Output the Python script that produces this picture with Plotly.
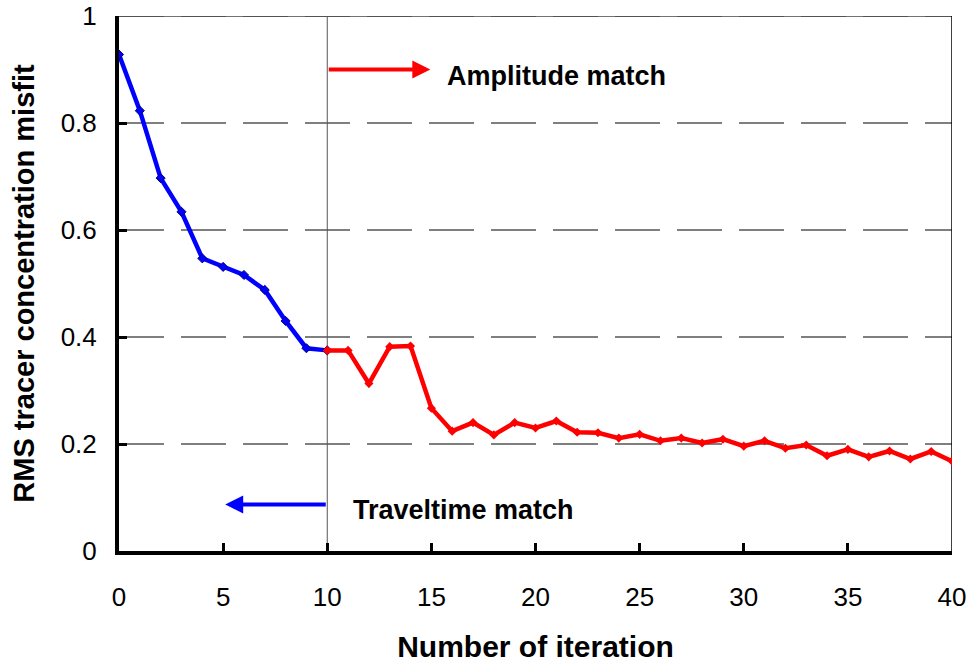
import plotly.graph_objects as go

# Data
iter_travel = [0, 1, 2, 3, 4, 5, 6, 7, 8, 9, 10]
misfit_travel = [0.928, 0.823, 0.697, 0.634, 0.547, 0.531, 0.516, 0.488, 0.430, 0.379, 0.375]

iter_amp = list(range(10, 41))
misfit_amp = [0.375, 0.375, 0.313, 0.382, 0.383, 0.267, 0.224, 0.240, 0.217, 0.240,
              0.230, 0.243, 0.222, 0.221, 0.211, 0.218, 0.206, 0.211, 0.202, 0.209,
              0.196, 0.206, 0.192, 0.198, 0.178, 0.190, 0.176, 0.187, 0.172, 0.186,
              0.168]

x_ticks = [0, 5, 10, 15, 20, 25, 30, 35, 40]
y_ticks = [0, 0.2, 0.4, 0.6, 0.8, 1.0]
y_ticktext = ["0", "0.2", "0.4", "0.6", "0.8", "1"]

FONT = "Arial, Liberation Sans, sans-serif"

fig = go.Figure()

fig.add_trace(go.Scatter(
    x=iter_travel, y=misfit_travel, mode="lines+markers",
    line=dict(color="#0000ff", width=4.5),
    marker=dict(symbol="diamond", size=7, color="#0000ff",
                line=dict(color="#000080", width=1)),
    showlegend=False, name="Traveltime match"))

fig.add_trace(go.Scatter(
    x=iter_amp, y=misfit_amp, mode="lines+markers",
    line=dict(color="#ff0000", width=4.5),
    marker=dict(symbol="diamond", size=7, color="#ff0000"),
    showlegend=False, name="Amplitude match"))

shapes = []
# dashed horizontal gridlines
for v in [0.2, 0.4, 0.6, 0.8, 1.0]:
    shapes.append(dict(type="line", xref="x", yref="y", x0=0, x1=40, y0=v, y1=v,
                       line=dict(color="black", width=1.2, dash="45px,17px"), layer="below"))
# top and right border
shapes.append(dict(type="line", xref="x", yref="y", x0=0, x1=40, y0=1, y1=1,
                   line=dict(color="#444", width=1.5), layer="below"))
shapes.append(dict(type="line", xref="x", yref="y", x0=40, x1=40, y0=0, y1=1,
                   line=dict(color="black", width=1.5), layer="below"))
# vertical separator at iteration 10
shapes.append(dict(type="line", xref="x", yref="y", x0=10, x1=10, y0=0, y1=1,
                   line=dict(color="#555", width=1), layer="below"))

annotations = [
    dict(x=14.95, y=0.900, ax=10, ay=0.900, xref="x", yref="y", axref="x", ayref="y",
         text="", showarrow=True, arrowhead=2, arrowsize=0.9, arrowwidth=4,
         arrowcolor="#ff0000"),
    dict(x=5.1, y=0.087, ax=10, ay=0.087, xref="x", yref="y", axref="x", ayref="y",
         text="", showarrow=True, arrowhead=2, arrowsize=0.9, arrowwidth=4,
         arrowcolor="#0000ff"),
    dict(x=15.67, y=0.888, xref="x", yref="y", text="<b>Amplitude match</b>",
         showarrow=False, xanchor="left", yanchor="middle",
         font=dict(family=FONT, size=27, color="black")),
    dict(x=11.14, y=0.076, xref="x", yref="y", text="<b>Traveltime match</b>",
         showarrow=False, xanchor="left", yanchor="middle",
         font=dict(family=FONT, size=27, color="black")),
]

fig.update_layout(
    width=973, height=665,
    margin=dict(l=119, r=21, t=16, b=114, autoexpand=False),
    plot_bgcolor="white", paper_bgcolor="white",
    font=dict(family=FONT, color="black"),
    shapes=shapes, annotations=annotations,
    xaxis=dict(range=[0, 40], tickvals=x_ticks, ticks="inside", ticklen=8, tickwidth=3,
               tickcolor="black", showline=True, linecolor="black", linewidth=4,
               showgrid=False, zeroline=False, ticklabelstandoff=20, automargin=False,
               tickfont=dict(size=26),
               title=dict(text="<b>Number of iteration</b>", font=dict(size=30), standoff=26)),
    yaxis=dict(range=[0, 1], tickvals=y_ticks, ticktext=y_ticktext, ticks="inside",
               ticklen=8, tickwidth=3, tickcolor="black", showline=True,
               linecolor="black", linewidth=4, showgrid=False, zeroline=False,
               ticklabelstandoff=13, automargin=False, tickfont=dict(size=26),
               title=dict(text="<b>RMS tracer concentration misfit</b>", font=dict(size=29),
                          standoff=18)),
)

fig.write_html("out.html")
